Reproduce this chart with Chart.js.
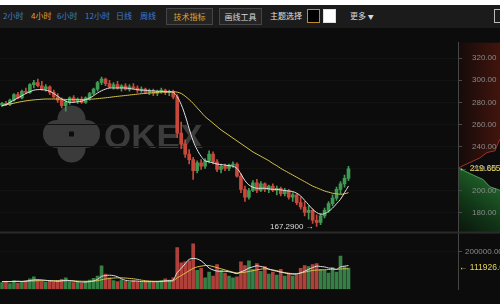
<!DOCTYPE html>
<html>
<head>
<meta charset="utf-8">
<script src="https://cdn.jsdelivr.net/npm/chart.js@4.4.1/dist/chart.umd.min.js"></script>
<style>
html, body { margin: 0; padding: 0; width: 500px; height: 304px; overflow: hidden; background: #0c0c0c; font-family: "Noto Sans CJK SC", sans-serif; }
#topline { position: absolute; left: 0; top: 0; width: 500px; height: 5px; background: #ffffff; }
#bar { position: absolute; left: 0; top: 5px; width: 500px; height: 23px; background: #1b1b1b; }
#bar span { position: absolute; top: 5px; font-size: 8px; line-height: 12px; white-space: nowrap; }
#bar .blue { color: #3c7ccc; }
#bar .btn { top: 3px; height: 15px; line-height: 15px; border: 1px solid #454545; background: #242424; text-align: center; }
#bar .sq { top: 4px; width: 11px; height: 12px; }
#wrap { position: absolute; left: 0; top: 28px; width: 500px; height: 276px; }
</style>
</head>
<body>
<div id="topline"></div>
<div id="bar">
  <span class="blue" style="left:3px">2小时</span>
  <span style="left:31px;color:#e0a030">4小时</span>
  <span class="blue" style="left:57px">6小时</span>
  <span class="blue" style="left:85px">12小时</span>
  <span class="blue" style="left:116px">日线</span>
  <span class="blue" style="left:140px">周线</span>
  <span class="btn" style="left:166px;width:45px;color:#e0a030">技术指标</span>
  <span class="btn" style="left:219px;width:41px;color:#d8d8d8">画线工具</span>
  <span style="left:270px;color:#e0e0e0">主题选择</span>
  <span class="sq" style="left:307px;background:#000;border:1px solid #c08a30"></span>
  <span class="sq" style="left:323px;background:#fff;border:1px solid #ddd"></span>
  <span style="left:350px;color:#d8d8d8">更多 <span style="position:static;font-size:6px">▼</span></span>
  <span class="sq" style="left:494px;width:8px;border:1px solid #bbb"></span>
</div>
<div id="wrap"><canvas id="kline" width="500" height="276"></canvas></div>
<script>
// 4h candles (price in USDT)
const open = [277.5,279,278,282,287,284,290,289,296,298,295,292,294,289,285,282,277,280,284,281,
  283,280,284,288,292,298,301,297,294,296,293,295,292,294,293,291,292,289,290,288,
  290,291,289,290,285,252,242,233,228,218,225,222,227,233,226,219,222,220,223,224,
  213,201,194,200,207,200,206,201,204,200,202,197,200,194,196,189,185,180,182,173,
  171,177,182,188,193,201,206,211];
const high = [280,281,283,288,289,291,293,297,300,301,299,296,295,291,288,284,282,285,286,284,
  285,285,289,293,299,303,302,300,298,299,296,297,296,297,295,294,293,292,292,291,
  293,292,291,291,287,262,246,237,230,227,228,229,236,235,228,224,224,224,226,225,
  215,204,202,209,210,208,207,205,206,204,203,202,201,198,197,194,190,186,183,178,
  179,184,190,196,203,208,214,222];
const low = [276,277,277,281,283,283,288,288,293,294,291,290,287,284,280,275,272,278,280,279,
  279,279,282,287,290,296,295,293,292,292,290,291,290,292,289,289,288,287,286,286,
  288,287,286,283,248,238,230,224,210,216,219,220,225,224,217,216,218,218,221,212,
  198,190,192,199,198,199,199,198,199,196,195,195,192,190,187,183,177,174,170,167.29,
  169,175,180,186,191,197,203,209];
const close = [279,278,282,287,284,290,289,296,298,295,292,294,289,285,282,277,280,284,281,283,
  280,284,288,292,298,301,297,294,296,293,295,292,294,293,291,292,289,290,288,290,
  291,289,290,285,252,242,233,228,218,225,222,227,233,226,219,222,220,223,224,213,
  201,194,200,207,200,206,201,204,200,202,197,200,194,196,189,185,180,182,173,171,
  177,182,188,193,201,206,211,219.6556];
const maFast = [277,278,280,282,284,286,288,289.5,291,291.5,291.5,291,290,288,285.5,283,281,280,280,280.5,
  281,282.5,284,286,288.5,290.5,292,293,293,293,293,293,292.5,292,291.5,291,291,290.5,290.5,290,
  290,289.5,289.5,289,285,278,268,256,245,237,231,227,226,225,224,223.5,223,222.5,222,220,
  215,209,205,203,202,202,202,201.5,201,201,200.5,200,199.5,199,197.5,195,191,187,183,180,
  178.5,179,181,184,188,192,198,204];
const maSlow = [277,277.8,278.5,279.2,280,280.7,281.3,281.8,282.2,282.5,282.8,283,283,283,283,282.8,282.6,282.5,282.5,282.5,
  282.5,282.6,282.8,283,283.3,283.7,284.1,284.5,285,285.4,285.8,286.2,286.6,287,287.4,287.8,288.1,288.4,288.7,289,
  289.2,289.4,289.5,289.5,289.2,288,285.5,282.5,279,275,271,267,264,261,258,255,252.5,250,247.5,245,
  242.5,240,237.5,235,233,231,229,227,224.5,222.5,220,218,216,214,212,210,208,206,204,202.5,
  201,199.5,198.5,197.5,197,196.5,197,198];
const volume = [35000,40000,30000,45000,32000,38000,42000,55000,65000,48000,
  40000,36000,44000,38000,46000,52000,60000,40000,35000,38000,
  33000,42000,48000,58000,70000,124000,80000,60000,45000,40000,
  50000,42000,38000,45000,40000,35000,38000,42000,36000,40000,
  45000,55000,48000,60000,220000,140000,145000,150000,240000,100000,
  110000,60000,90000,70000,130000,100000,85000,70000,60000,65000,
  145000,125000,150000,105000,135000,95000,120000,80000,90000,75000,
  105000,70000,85000,70000,75000,110000,125000,120000,130000,135000,
  105000,100000,85000,115000,90000,175000,120000,111926.69];
const volMaFast = [40000,41000,40000,41000,42000,41000,43000,46000,49000,50000,49000,47000,45000,43000,42000,44000,47000,46000,43000,40000,
  38000,38000,40000,44000,52000,68000,72000,74000,72000,66000,55000,47000,44000,43000,43000,40000,40000,40000,40000,40000,
  41000,44000,45000,49000,88000,110000,135000,158000,163000,160000,150000,132000,112000,102000,96000,95000,95000,92000,88000,82000,
  92000,100000,112000,118000,124000,120000,115000,106000,100000,95000,90000,86000,82000,80000,80000,86000,95000,105000,114000,122000,
  120000,118000,112000,110000,105000,118000,122000,125000];
const volMaSlow = [40000,40000,40000,41000,41000,41000,42000,43000,44000,45000,45000,45000,45000,45000,45000,45000,45000,45000,44000,43000,
  42000,42000,42000,43000,45000,50000,54000,57000,59000,60000,60000,59000,57000,55000,52000,48000,45000,43000,42000,42000,
  42000,43000,43000,44000,60000,72000,85000,98000,110000,118000,122000,125000,125000,120000,114000,108000,102000,96000,90000,86000,
  88000,90000,94000,98000,102000,106000,108000,106000,102000,98000,92000,88000,84000,82000,82000,86000,90000,95000,99000,101000,
  102000,103000,104000,105000,105000,107000,108000,108000];

// order book depth beside the price axis (share of the axis width)
const askPrice = [219.6556,221.3,229.5,234.4,236,242.5,246.6];
const askDepth = [0,0.05,0.52,0.69,0.88,0.95,1];
const bidPrice = [219.6556,214,209.9,203.3,200.9,200];
const bidDepth = [0.05,0.36,0.6,0.76,0.95,1];

const priceTicks = [180,200,220,240,260,280,300,320];
const volTicks = [200000];
const lowIndex = 79;

// slots on the time axis (right part still empty)
const labels = [];
for (let i = 0; i < 115; i++) {
    const d = 1 + Math.floor(i / 6);
    const h = (i % 6) * 4;
    labels.push('01-' + String(d).padStart(2, '0') + ' ' + String(h).padStart(2, '0') + ':00');
}

const UP = '#3f9a52';
const DOWN = '#c8483b';
const dirColor = c => close[c.dataIndex] >= open[c.dataIndex] ? UP : DOWN;
const volColor = c => close[c.dataIndex] >= open[c.dataIndex] ? '#367f45' : '#b0403a';

// drawn before the axes so tick labels stay on top
const depthPlugin = {
    id: 'depth',
    beforeDraw(chart) {
        const { ctx, chartArea } = chart;
        const y = chart.scales.y;
        const x0 = chartArea.right;
        const w = chart.width - x0;
        ctx.save();
        let g = ctx.createLinearGradient(x0, 0, chart.width, 0);
        g.addColorStop(0, 'rgba(20,11,10,1)');
        g.addColorStop(1, 'rgba(66,20,13,1)');
        ctx.fillStyle = g;
        ctx.beginPath();
        ctx.moveTo(x0, y.top);
        ctx.lineTo(chart.width, y.top);
        for (let k = askPrice.length - 1; k >= 0; k--) {
            ctx.lineTo(x0 + askDepth[k] * w, y.getPixelForValue(askPrice[k]));
        }
        ctx.closePath();
        ctx.fill();
        ctx.strokeStyle = 'rgba(170,55,45,0.9)';
        ctx.lineWidth = 1;
        ctx.beginPath();
        askPrice.forEach((p, k) => ctx.lineTo(x0 + askDepth[k] * w, y.getPixelForValue(p)));
        ctx.stroke();

        g = ctx.createLinearGradient(chart.width, y.getPixelForValue(215), x0, y.bottom);
        g.addColorStop(0, '#25702f');
        g.addColorStop(0.6, '#103416');
        g.addColorStop(1, '#0b140c');
        ctx.fillStyle = g;
        ctx.beginPath();
        bidPrice.forEach((p, k) => ctx.lineTo(x0 + bidDepth[k] * w, y.getPixelForValue(p)));
        ctx.lineTo(chart.width, y.bottom);
        ctx.lineTo(x0, y.bottom);
        ctx.lineTo(x0, y.getPixelForValue(bidPrice[0]));
        ctx.closePath();
        ctx.fill();
        ctx.strokeStyle = 'rgba(80,170,90,0.9)';
        ctx.beginPath();
        bidPrice.forEach((p, k) => ctx.lineTo(x0 + bidDepth[k] * w, y.getPixelForValue(p)));
        ctx.stroke();

        // watermark
        ctx.fillStyle = '#3b3b3b';
        [[57, 106], [86, 106], [71.5, 91.5], [71.5, 120.5]].forEach(c => {
            ctx.beginPath();
            ctx.arc(c[0], c[1], 14, 0, Math.PI * 2);
            ctx.fill();
        });
        ctx.fillStyle = '#0c0c0c';
        ctx.fillRect(69, 103.5, 5, 5);
        ctx.fillStyle = '#3b3b3b';
        ctx.font = 'bold 35px "Liberation Sans", Arial, sans-serif';
        ctx.textBaseline = 'alphabetic';
        ctx.fillText('OKEX', 104, 120);
        ctx.restore();
    }
};

const labelPlugin = {
    id: 'labels',
    afterDraw(chart) {
        const { ctx } = chart;
        const x = chart.scales.x, y = chart.scales.y, y2 = chart.scales.y2;
        ctx.save();
        ctx.strokeStyle = '#2a2a2a';
        ctx.lineWidth = 2;
        ctx.beginPath();
        ctx.moveTo(0, y2.top - 1);
        ctx.lineTo(chart.width, y2.top - 1);
        ctx.stroke();

        ctx.font = '8.5px "Liberation Sans", "DejaVu Sans", sans-serif';
        ctx.textBaseline = 'middle';
        ctx.fillStyle = '#e6d35a';
        ctx.textAlign = 'left';
        ctx.fillText('\u2190 ' + close[close.length - 1].toFixed(4), y.left + 1, y.getPixelForValue(close[close.length - 1]));
        ctx.fillText('\u2190 ' + volume[volume.length - 1].toFixed(2), y2.left + 1, y2.getPixelForValue(volume[volume.length - 1]));

        ctx.fillStyle = '#dddddd';
        ctx.font = '8px "Liberation Sans", "DejaVu Sans", sans-serif';
        ctx.textAlign = 'right';
        ctx.fillText(low[lowIndex].toFixed(4) + ' \u2192', x.getPixelForValue(lowIndex) - 3, y.getPixelForValue(low[lowIndex]));
        ctx.restore();
    }
};

new Chart(document.getElementById('kline').getContext('2d'), {
    data: {
        labels: labels,
        datasets: [
            {
                type: 'line', data: maFast, yAxisID: 'y', borderColor: '#dde3e6', borderWidth: 1,
                pointRadius: 0, tension: 0.4, order: 1
            },
            {
                type: 'line', data: maSlow, yAxisID: 'y', borderColor: '#d8c44a', borderWidth: 1,
                pointRadius: 0, tension: 0.4, order: 1
            },
            {
                type: 'bar', data: low.map((l, i) => [l, high[i]]), yAxisID: 'y',
                backgroundColor: dirColor, barThickness: 1, grouped: false, order: 3
            },
            {
                type: 'bar', data: open.map((o, i) => [o, close[i]]), yAxisID: 'y',
                backgroundColor: dirColor, barThickness: 3, minBarLength: 1, grouped: false, order: 2
            },
            {
                type: 'bar', data: volume, yAxisID: 'y2',
                backgroundColor: volColor, barThickness: 3, grouped: false, order: 2
            },
            {
                type: 'line', data: volMaFast, yAxisID: 'y2', borderColor: '#dde3e6', borderWidth: 1,
                pointRadius: 0, tension: 0.3, order: 1
            },
            {
                type: 'line', data: volMaSlow, yAxisID: 'y2', borderColor: '#d8c44a', borderWidth: 1,
                pointRadius: 0, tension: 0.3, order: 1
            }
        ]
    },
    options: {
        responsive: false,
        animation: false,
        layout: { padding: { top: 2, left: 0, right: 0, bottom: 0 } },
        plugins: { legend: { display: false }, tooltip: { enabled: false } },
        scales: {
            x: { type: 'category', display: false, offset: true },
            y: {
                type: 'linear', position: 'right', stack: 'k', stackWeight: 212,
                min: 161, max: 334,
                afterBuildTicks: s => { s.ticks = priceTicks.map(v => ({ value: v })); },
                afterFit: s => { s.width = 42; },
                ticks: {
                    color: '#8a8a8a', padding: 10,
                    font: { size: 8, family: '"Liberation Sans", Arial, sans-serif' },
                    callback: v => v.toFixed(2)
                },
                grid: { color: '#121212', tickLength: 4, tickColor: '#4a4a4a' },
                border: { color: '#464646' }
            },
            y2: {
                type: 'linear', position: 'right', stack: 'k', stackWeight: 62,
                min: 0, max: 295000,
                afterBuildTicks: s => { s.ticks = volTicks.map(v => ({ value: v })); },
                afterFit: s => { s.width = 42; },
                ticks: {
                    color: '#8a8a8a', padding: 3,
                    font: { size: 8, family: '"Liberation Sans", Arial, sans-serif' },
                    callback: v => v.toFixed(2)
                },
                grid: { color: '#121212', tickLength: 4, tickColor: '#4a4a4a' },
                border: { color: '#464646' }
            }
        }
    },
    plugins: [depthPlugin, labelPlugin]
});
</script>
</body>
</html>
